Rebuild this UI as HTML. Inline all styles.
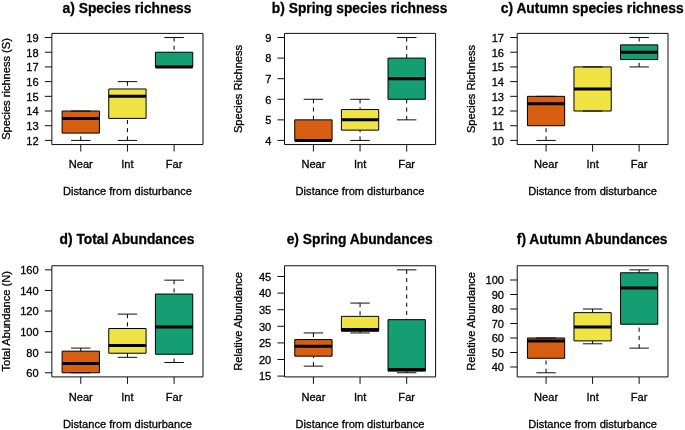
<!DOCTYPE html>
<html><head><meta charset="utf-8"><style>
html,body{margin:0;padding:0;background:#fff;}
body{width:685px;height:430px;overflow:hidden;}
svg{display:block;filter:blur(0.35px);}
text{font-family:"Liberation Sans",sans-serif;fill:#000;stroke:#000;stroke-width:0.3px;}
.yt{font-size:11.1px;text-anchor:end;}
.xt{font-size:11.1px;text-anchor:middle;}
.ti{font-size:13.8px;font-weight:bold;text-anchor:middle;}
.fr{fill:none;stroke:#000;stroke-width:0.95;stroke-linejoin:round;}
.tk{stroke:#000;stroke-width:0.95;}
.bx{stroke:#000;stroke-width:1;stroke-linejoin:round;}
.med{stroke:#000;stroke-width:3;}
.wh{stroke:#000;stroke-width:1;stroke-dasharray:4.1 4.1;}
.cap{stroke:#000;stroke-width:0.95;stroke-linecap:round;}
</style></head><body>
<svg width="685" height="430" viewBox="0 0 685 430">
<rect class="bx" x="62.11" y="111.03" width="37.32" height="22.05" fill="#D85E12"/>
<line class="med" x1="62.11" y1="118.38" x2="99.43" y2="118.38"/>
<line class="wh" x1="80.77" y1="140.43" x2="80.77" y2="133.08"/>
<line class="cap" x1="71.44" y1="111.03" x2="90.1" y2="111.03"/>
<line class="cap" x1="71.44" y1="140.43" x2="90.1" y2="140.43"/>
<rect class="bx" x="108.76" y="88.98" width="37.32" height="29.4" fill="#EFE443"/>
<line class="med" x1="108.76" y1="96.33" x2="146.09" y2="96.33"/>
<line class="wh" x1="127.43" y1="81.62" x2="127.43" y2="88.98"/>
<line class="wh" x1="127.43" y1="140.43" x2="127.43" y2="118.38"/>
<line class="cap" x1="118.09" y1="81.62" x2="136.76" y2="81.62"/>
<line class="cap" x1="118.09" y1="140.43" x2="136.76" y2="140.43"/>
<rect class="bx" x="155.42" y="52.22" width="37.32" height="14.7" fill="#159E72"/>
<line class="med" x1="155.42" y1="66.92" x2="192.74" y2="66.92"/>
<line class="wh" x1="174.08" y1="37.52" x2="174.08" y2="52.22"/>
<line class="cap" x1="164.75" y1="37.52" x2="183.41" y2="37.52"/>
<line class="cap" x1="164.75" y1="66.92" x2="183.41" y2="66.92"/>
<rect class="fr" x="51.85" y="33.4" width="151.15" height="111.15"/>
<line class="tk" x1="44.85" y1="140.43" x2="51.85" y2="140.43"/>
<text class="yt" x="38.65" y="144.73">12</text>
<line class="tk" x1="44.85" y1="125.73" x2="51.85" y2="125.73"/>
<text class="yt" x="38.65" y="130.03">13</text>
<line class="tk" x1="44.85" y1="111.03" x2="51.85" y2="111.03"/>
<text class="yt" x="38.65" y="115.33">14</text>
<line class="tk" x1="44.85" y1="96.33" x2="51.85" y2="96.33"/>
<text class="yt" x="38.65" y="100.63">15</text>
<line class="tk" x1="44.85" y1="81.62" x2="51.85" y2="81.62"/>
<text class="yt" x="38.65" y="85.92">16</text>
<line class="tk" x1="44.85" y1="66.92" x2="51.85" y2="66.92"/>
<text class="yt" x="38.65" y="71.22">17</text>
<line class="tk" x1="44.85" y1="52.22" x2="51.85" y2="52.22"/>
<text class="yt" x="38.65" y="56.52">18</text>
<line class="tk" x1="44.85" y1="37.52" x2="51.85" y2="37.52"/>
<text class="yt" x="38.65" y="41.82">19</text>
<line class="tk" x1="80.77" y1="144.55" x2="80.77" y2="151.55"/>
<text class="xt" x="80.77" y="168.45">Near</text>
<line class="tk" x1="127.43" y1="144.55" x2="127.43" y2="151.55"/>
<text class="xt" x="127.43" y="168.45">Int</text>
<line class="tk" x1="174.08" y1="144.55" x2="174.08" y2="151.55"/>
<text class="xt" x="174.08" y="168.45">Far</text>
<text class="xt" x="127.43" y="194.95">Distance from disturbance</text>
<text class="xt" transform="translate(9.65,88.97) rotate(-90)" x="0" y="0">Species richness (S)</text>
<text class="ti" x="127.03" y="12.5">a) Species richness</text>
<rect class="bx" x="294.76" y="119.85" width="37.31" height="20.58" fill="#D85E12"/>
<line class="med" x1="294.76" y1="140.43" x2="332.07" y2="140.43"/>
<line class="wh" x1="313.41" y1="99.27" x2="313.41" y2="119.85"/>
<line class="cap" x1="304.09" y1="99.27" x2="322.74" y2="99.27"/>
<line class="cap" x1="304.09" y1="140.43" x2="322.74" y2="140.43"/>
<rect class="bx" x="341.4" y="109.56" width="37.31" height="20.58" fill="#EFE443"/>
<line class="med" x1="341.4" y1="119.85" x2="378.7" y2="119.85"/>
<line class="wh" x1="360.05" y1="99.27" x2="360.05" y2="109.56"/>
<line class="wh" x1="360.05" y1="140.43" x2="360.05" y2="130.14"/>
<line class="cap" x1="350.72" y1="99.27" x2="369.38" y2="99.27"/>
<line class="cap" x1="350.72" y1="140.43" x2="369.38" y2="140.43"/>
<rect class="bx" x="388.03" y="58.1" width="37.31" height="41.17" fill="#159E72"/>
<line class="med" x1="388.03" y1="78.68" x2="425.34" y2="78.68"/>
<line class="wh" x1="406.69" y1="37.52" x2="406.69" y2="58.1"/>
<line class="wh" x1="406.69" y1="119.85" x2="406.69" y2="99.27"/>
<line class="cap" x1="397.36" y1="37.52" x2="416.01" y2="37.52"/>
<line class="cap" x1="397.36" y1="119.85" x2="416.01" y2="119.85"/>
<rect class="fr" x="284.5" y="33.4" width="151.1" height="111.15"/>
<line class="tk" x1="277.5" y1="140.43" x2="284.5" y2="140.43"/>
<text class="yt" x="271.3" y="144.73">4</text>
<line class="tk" x1="277.5" y1="119.85" x2="284.5" y2="119.85"/>
<text class="yt" x="271.3" y="124.15">5</text>
<line class="tk" x1="277.5" y1="99.27" x2="284.5" y2="99.27"/>
<text class="yt" x="271.3" y="103.57">6</text>
<line class="tk" x1="277.5" y1="78.68" x2="284.5" y2="78.68"/>
<text class="yt" x="271.3" y="82.98">7</text>
<line class="tk" x1="277.5" y1="58.1" x2="284.5" y2="58.1"/>
<text class="yt" x="271.3" y="62.4">8</text>
<line class="tk" x1="277.5" y1="37.52" x2="284.5" y2="37.52"/>
<text class="yt" x="271.3" y="41.82">9</text>
<line class="tk" x1="313.41" y1="144.55" x2="313.41" y2="151.55"/>
<text class="xt" x="313.41" y="168.45">Near</text>
<line class="tk" x1="360.05" y1="144.55" x2="360.05" y2="151.55"/>
<text class="xt" x="360.05" y="168.45">Int</text>
<line class="tk" x1="406.69" y1="144.55" x2="406.69" y2="151.55"/>
<text class="xt" x="406.69" y="168.45">Far</text>
<text class="xt" x="360.05" y="194.95">Distance from disturbance</text>
<text class="xt" transform="translate(242.3,88.97) rotate(-90)" x="0" y="0">Species Richness</text>
<text class="ti" x="359.65" y="12.5">b) Spring species richness</text>
<rect class="bx" x="527.44" y="96.33" width="37.23" height="29.4" fill="#D85E12"/>
<line class="med" x1="527.44" y1="103.68" x2="564.67" y2="103.68"/>
<line class="wh" x1="546.06" y1="140.43" x2="546.06" y2="125.73"/>
<line class="cap" x1="536.75" y1="96.33" x2="555.37" y2="96.33"/>
<line class="cap" x1="536.75" y1="140.43" x2="555.37" y2="140.43"/>
<rect class="bx" x="573.98" y="66.92" width="37.23" height="44.11" fill="#EFE443"/>
<line class="med" x1="573.98" y1="88.98" x2="611.22" y2="88.98"/>
<line class="cap" x1="583.29" y1="66.92" x2="601.91" y2="66.92"/>
<line class="cap" x1="583.29" y1="111.03" x2="601.91" y2="111.03"/>
<rect class="bx" x="620.53" y="44.87" width="37.23" height="14.7" fill="#159E72"/>
<line class="med" x1="620.53" y1="52.22" x2="657.76" y2="52.22"/>
<line class="wh" x1="639.14" y1="37.52" x2="639.14" y2="44.87"/>
<line class="wh" x1="639.14" y1="66.92" x2="639.14" y2="59.57"/>
<line class="cap" x1="629.83" y1="37.52" x2="648.45" y2="37.52"/>
<line class="cap" x1="629.83" y1="66.92" x2="648.45" y2="66.92"/>
<rect class="fr" x="517.2" y="33.4" width="150.8" height="111.15"/>
<line class="tk" x1="510.2" y1="140.43" x2="517.2" y2="140.43"/>
<text class="yt" x="504" y="144.73">10</text>
<line class="tk" x1="510.2" y1="125.73" x2="517.2" y2="125.73"/>
<text class="yt" x="504" y="130.03">11</text>
<line class="tk" x1="510.2" y1="111.03" x2="517.2" y2="111.03"/>
<text class="yt" x="504" y="115.33">12</text>
<line class="tk" x1="510.2" y1="96.33" x2="517.2" y2="96.33"/>
<text class="yt" x="504" y="100.63">13</text>
<line class="tk" x1="510.2" y1="81.62" x2="517.2" y2="81.62"/>
<text class="yt" x="504" y="85.92">14</text>
<line class="tk" x1="510.2" y1="66.92" x2="517.2" y2="66.92"/>
<text class="yt" x="504" y="71.22">15</text>
<line class="tk" x1="510.2" y1="52.22" x2="517.2" y2="52.22"/>
<text class="yt" x="504" y="56.52">16</text>
<line class="tk" x1="510.2" y1="37.52" x2="517.2" y2="37.52"/>
<text class="yt" x="504" y="41.82">17</text>
<line class="tk" x1="546.06" y1="144.55" x2="546.06" y2="151.55"/>
<text class="xt" x="546.06" y="168.45">Near</text>
<line class="tk" x1="592.6" y1="144.55" x2="592.6" y2="151.55"/>
<text class="xt" x="592.6" y="168.45">Int</text>
<line class="tk" x1="639.14" y1="144.55" x2="639.14" y2="151.55"/>
<text class="xt" x="639.14" y="168.45">Far</text>
<text class="xt" x="592.6" y="194.95">Distance from disturbance</text>
<text class="xt" transform="translate(475,88.97) rotate(-90)" x="0" y="0">Species Richness</text>
<text class="ti" x="592.2" y="12.5">c) Autumn species richness</text>
<rect class="bx" x="62.11" y="351.17" width="37.32" height="21.61" fill="#D85E12"/>
<line class="med" x1="62.11" y1="363.52" x2="99.43" y2="363.52"/>
<line class="wh" x1="80.77" y1="348.08" x2="80.77" y2="351.17"/>
<line class="cap" x1="71.44" y1="348.08" x2="90.1" y2="348.08"/>
<line class="cap" x1="71.44" y1="372.78" x2="90.1" y2="372.78"/>
<rect class="bx" x="108.76" y="328.53" width="37.32" height="24.7" fill="#EFE443"/>
<line class="med" x1="108.76" y1="345.51" x2="146.09" y2="345.51"/>
<line class="wh" x1="127.43" y1="314.12" x2="127.43" y2="328.53"/>
<line class="wh" x1="127.43" y1="357.35" x2="127.43" y2="353.23"/>
<line class="cap" x1="118.09" y1="314.12" x2="136.76" y2="314.12"/>
<line class="cap" x1="118.09" y1="357.35" x2="136.76" y2="357.35"/>
<rect class="bx" x="155.42" y="294.05" width="37.32" height="60.21" fill="#159E72"/>
<line class="med" x1="155.42" y1="326.99" x2="192.74" y2="326.99"/>
<line class="wh" x1="174.08" y1="280.16" x2="174.08" y2="294.05"/>
<line class="wh" x1="174.08" y1="362.49" x2="174.08" y2="354.26"/>
<line class="cap" x1="164.75" y1="280.16" x2="183.41" y2="280.16"/>
<line class="cap" x1="164.75" y1="362.49" x2="183.41" y2="362.49"/>
<rect class="fr" x="51.85" y="265.75" width="151.15" height="111.15"/>
<line class="tk" x1="44.85" y1="372.78" x2="51.85" y2="372.78"/>
<text class="yt" x="38.65" y="377.08">60</text>
<line class="tk" x1="44.85" y1="352.2" x2="51.85" y2="352.2"/>
<text class="yt" x="38.65" y="356.5">80</text>
<line class="tk" x1="44.85" y1="331.62" x2="51.85" y2="331.62"/>
<text class="yt" x="38.65" y="335.92">100</text>
<line class="tk" x1="44.85" y1="311.03" x2="51.85" y2="311.03"/>
<text class="yt" x="38.65" y="315.33">120</text>
<line class="tk" x1="44.85" y1="290.45" x2="51.85" y2="290.45"/>
<text class="yt" x="38.65" y="294.75">140</text>
<line class="tk" x1="44.85" y1="269.87" x2="51.85" y2="269.87"/>
<text class="yt" x="38.65" y="274.17">160</text>
<line class="tk" x1="80.77" y1="376.9" x2="80.77" y2="383.9"/>
<text class="xt" x="80.77" y="400.8">Near</text>
<line class="tk" x1="127.43" y1="376.9" x2="127.43" y2="383.9"/>
<text class="xt" x="127.43" y="400.8">Int</text>
<line class="tk" x1="174.08" y1="376.9" x2="174.08" y2="383.9"/>
<text class="xt" x="174.08" y="400.8">Far</text>
<text class="xt" x="127.43" y="428">Distance from disturbance</text>
<text class="xt" transform="translate(9.65,321.32) rotate(-90)" x="0" y="0">Total Abundance (N)</text>
<text class="ti" x="127.03" y="243.95">d) Total Abundances</text>
<rect class="bx" x="294.76" y="339.58" width="37.31" height="16.6" fill="#D85E12"/>
<line class="med" x1="294.76" y1="346.22" x2="332.07" y2="346.22"/>
<line class="wh" x1="313.41" y1="332.94" x2="313.41" y2="339.58"/>
<line class="wh" x1="313.41" y1="366.14" x2="313.41" y2="356.18"/>
<line class="cap" x1="304.09" y1="332.94" x2="322.74" y2="332.94"/>
<line class="cap" x1="304.09" y1="366.14" x2="322.74" y2="366.14"/>
<rect class="bx" x="341.4" y="316.35" width="37.31" height="14.94" fill="#EFE443"/>
<line class="med" x1="341.4" y1="329.62" x2="378.7" y2="329.62"/>
<line class="wh" x1="360.05" y1="303.07" x2="360.05" y2="316.35"/>
<line class="wh" x1="360.05" y1="332.94" x2="360.05" y2="331.28"/>
<line class="cap" x1="350.72" y1="303.07" x2="369.38" y2="303.07"/>
<line class="cap" x1="350.72" y1="332.94" x2="369.38" y2="332.94"/>
<rect class="bx" x="388.03" y="319.67" width="37.31" height="51.46" fill="#159E72"/>
<line class="med" x1="388.03" y1="369.46" x2="425.34" y2="369.46"/>
<line class="wh" x1="406.69" y1="269.87" x2="406.69" y2="319.67"/>
<line class="wh" x1="406.69" y1="372.78" x2="406.69" y2="371.12"/>
<line class="cap" x1="397.36" y1="269.87" x2="416.01" y2="269.87"/>
<line class="cap" x1="397.36" y1="372.78" x2="416.01" y2="372.78"/>
<rect class="fr" x="284.5" y="265.75" width="151.1" height="111.15"/>
<line class="tk" x1="277.5" y1="376.1" x2="284.5" y2="376.1"/>
<text class="yt" x="271.3" y="380.4">15</text>
<line class="tk" x1="277.5" y1="359.5" x2="284.5" y2="359.5"/>
<text class="yt" x="271.3" y="363.8">20</text>
<line class="tk" x1="277.5" y1="342.9" x2="284.5" y2="342.9"/>
<text class="yt" x="271.3" y="347.2">25</text>
<line class="tk" x1="277.5" y1="326.3" x2="284.5" y2="326.3"/>
<text class="yt" x="271.3" y="330.6">30</text>
<line class="tk" x1="277.5" y1="309.71" x2="284.5" y2="309.71"/>
<text class="yt" x="271.3" y="314.01">35</text>
<line class="tk" x1="277.5" y1="293.11" x2="284.5" y2="293.11"/>
<text class="yt" x="271.3" y="297.41">40</text>
<line class="tk" x1="277.5" y1="276.51" x2="284.5" y2="276.51"/>
<text class="yt" x="271.3" y="280.81">45</text>
<line class="tk" x1="313.41" y1="376.9" x2="313.41" y2="383.9"/>
<text class="xt" x="313.41" y="400.8">Near</text>
<line class="tk" x1="360.05" y1="376.9" x2="360.05" y2="383.9"/>
<text class="xt" x="360.05" y="400.8">Int</text>
<line class="tk" x1="406.69" y1="376.9" x2="406.69" y2="383.9"/>
<text class="xt" x="406.69" y="400.8">Far</text>
<text class="xt" x="360.05" y="428">Distance from disturbance</text>
<text class="xt" transform="translate(242.3,321.32) rotate(-90)" x="0" y="0">Relative Abundance</text>
<text class="ti" x="359.65" y="243.95">e) Spring Abundances</text>
<rect class="bx" x="527.44" y="337.99" width="37.23" height="20.29" fill="#D85E12"/>
<line class="med" x1="527.44" y1="340.89" x2="564.67" y2="340.89"/>
<line class="wh" x1="546.06" y1="372.78" x2="546.06" y2="358.29"/>
<line class="cap" x1="536.75" y1="337.99" x2="555.37" y2="337.99"/>
<line class="cap" x1="536.75" y1="372.78" x2="555.37" y2="372.78"/>
<rect class="bx" x="573.98" y="312.63" width="37.23" height="28.27" fill="#EFE443"/>
<line class="med" x1="573.98" y1="327.12" x2="611.22" y2="327.12"/>
<line class="wh" x1="592.6" y1="309" x2="592.6" y2="312.63"/>
<line class="wh" x1="592.6" y1="343.79" x2="592.6" y2="340.89"/>
<line class="cap" x1="583.29" y1="309" x2="601.91" y2="309"/>
<line class="cap" x1="583.29" y1="343.79" x2="601.91" y2="343.79"/>
<rect class="bx" x="620.53" y="272.77" width="37.23" height="51.46" fill="#159E72"/>
<line class="med" x1="620.53" y1="287.99" x2="657.76" y2="287.99"/>
<line class="wh" x1="639.14" y1="269.87" x2="639.14" y2="272.77"/>
<line class="wh" x1="639.14" y1="348.14" x2="639.14" y2="324.22"/>
<line class="cap" x1="629.83" y1="269.87" x2="648.45" y2="269.87"/>
<line class="cap" x1="629.83" y1="348.14" x2="648.45" y2="348.14"/>
<rect class="fr" x="517.2" y="265.75" width="150.8" height="111.15"/>
<line class="tk" x1="510.2" y1="366.99" x2="517.2" y2="366.99"/>
<text class="yt" x="504" y="371.29">40</text>
<line class="tk" x1="510.2" y1="352.49" x2="517.2" y2="352.49"/>
<text class="yt" x="504" y="356.79">50</text>
<line class="tk" x1="510.2" y1="337.99" x2="517.2" y2="337.99"/>
<text class="yt" x="504" y="342.29">60</text>
<line class="tk" x1="510.2" y1="323.5" x2="517.2" y2="323.5"/>
<text class="yt" x="504" y="327.8">70</text>
<line class="tk" x1="510.2" y1="309" x2="517.2" y2="309"/>
<text class="yt" x="504" y="313.3">80</text>
<line class="tk" x1="510.2" y1="294.51" x2="517.2" y2="294.51"/>
<text class="yt" x="504" y="298.81">90</text>
<line class="tk" x1="510.2" y1="280.01" x2="517.2" y2="280.01"/>
<text class="yt" x="504" y="284.31">100</text>
<line class="tk" x1="546.06" y1="376.9" x2="546.06" y2="383.9"/>
<text class="xt" x="546.06" y="400.8">Near</text>
<line class="tk" x1="592.6" y1="376.9" x2="592.6" y2="383.9"/>
<text class="xt" x="592.6" y="400.8">Int</text>
<line class="tk" x1="639.14" y1="376.9" x2="639.14" y2="383.9"/>
<text class="xt" x="639.14" y="400.8">Far</text>
<text class="xt" x="592.6" y="428">Distance from disturbance</text>
<text class="xt" transform="translate(475,321.32) rotate(-90)" x="0" y="0">Relative Abundance</text>
<text class="ti" x="592.2" y="243.95">f) Autumn Abundances</text>
</svg>
</body></html>
